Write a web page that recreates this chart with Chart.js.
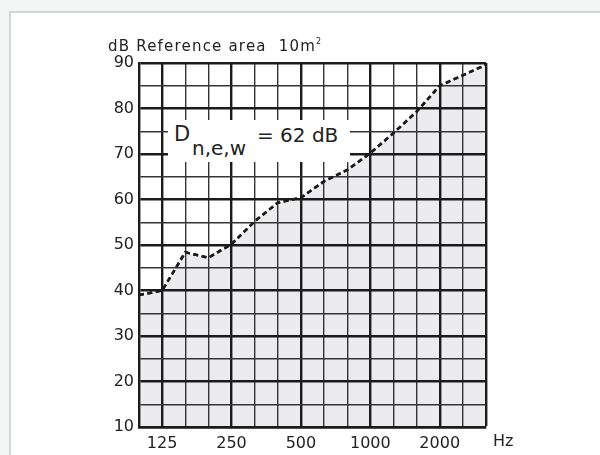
<!DOCTYPE html>
<html>
<head>
<meta charset="utf-8">
<script src="https://cdn.jsdelivr.net/npm/chart.js@4.4.1/dist/chart.umd.min.js"></script>
<style>
  body { margin: 0; width: 600px; height: 455px; overflow: hidden; background: #f4f5f5; position: relative; font-family: "DejaVu Sans", sans-serif; color: #222; }
  #panel { position: absolute; left: 9px; top: 11px; width: 600px; height: 460px; background: #fff; border-top: 2px solid #d6d6da; border-left: 2px solid #d6d6da; }
  #c { position: absolute; left: 0; top: 0; }
  .txt { position: absolute; white-space: pre; }
  #title { left: 108px; top: 34px; font-size: 15px; line-height: 15px; letter-spacing: 1.2px; }
  #title sup { font-size: 8px; vertical-align: 7px; letter-spacing: 0; }
  #hz { left: 493px; top: 433px; font-size: 16px; line-height: 16px; }
  #box { position: absolute; left: 168px; top: 120px; width: 182px; height: 42px; background: #fff; }
  .big { font-size: 20px; line-height: 20px; }
</style>
</head>
<body>
<div id="panel"></div>
<canvas id="c" width="600" height="455"></canvas>
<div class="txt" id="title">dB Reference area  10m<sup>2</sup></div>
<div class="txt" id="hz">Hz</div>
<div id="box"></div>
<div class="txt big" style="left:174px;top:124px;font-size:21px;">D</div>
<div class="txt big" style="left:192px;top:138px;">n,e,w</div>
<div class="txt big" style="left:257px;top:125px;">= 62 dB</div>
<script>
(function () {
    "use strict";

    // Third-octave bands (Hz)
    const bands = ["100", "125", "160", "200", "250", "315", "400", "500", "630", "800", "1000", "1250", "1600", "2000", "2500", "3150"];
    const labelledBands = ["125", "250", "500", "1000", "2000"];
    // Reference curve, dB
    const dnew = [39, 40, 48.4, 47.2, 50.2, 55.2, 59.3, 60.4, 64, 66.5, 70.2, 74.6, 79.3, 85, 87.3, 89.6];
    // y axis
    const yMin = 10;
    const yMax = 90;
    const yStep = 5;

    const ink = "#1b1b1b";
    const minorInk = "#343434";

    // grid on top of the grey fill, line on top of the grid
    const redrawLine = {
        id: "redrawLine",
        afterDraw(chart) {
            const meta = chart.getDatasetMeta(0);
            const ctx = chart.ctx;
            ctx.save();
            meta.dataset.draw(ctx, chart.chartArea);
            ctx.restore();
        },
    };

    const ctx = document.getElementById("c").getContext("2d");
    new Chart(ctx, {
        type: "line",
        data: {
            labels: bands,
            datasets: [
                {
                    label: "Reference curve",
                    data: dnew,
                    borderColor: ink,
                    borderWidth: 2.5,
                    borderDash: [5, 3.5],
                    backgroundColor: "#ececef",
                    fill: "start",
                    tension: 0,
                    pointRadius: 0,
                },
            ],
        },
        options: {
            responsive: false,
            animation: false,
            layout: {
                padding: { left: 103, top: 63, right: 114, bottom: 4 },
            },
            plugins: {
                legend: { display: false },
                tooltip: { enabled: false },
            },
            scales: {
                x: {
                    offset: false,
                    afterFit(s) { s.height = 24; },
                    grid: {
                        z: 1,
                        drawTicks: false,
                        color(c) {
                            const b = bands[c.index];
                            return labelledBands.includes(b) || c.index === bands.length - 1 ? ink : minorInk;
                        },
                        lineWidth(c) {
                            const b = bands[c.index];
                            return labelledBands.includes(b) || c.index === bands.length - 1 ? 2.4 : 1.4;
                        },
                    },
                    border: { display: true, color: ink, width: 2.4, z: 1 },
                    ticks: {
                        autoSkip: false,
                        maxRotation: 0,
                        padding: 7,
                        color: "#222",
                        font: { family: "DejaVu Sans", size: 16 },
                        callback(v, i) {
                            return labelledBands.includes(bands[i]) ? bands[i] : "";
                        },
                    },
                },
                y: {
                    min: yMin,
                    max: yMax,
                    afterFit(s) { s.width = 36; },
                    grid: {
                        z: 1,
                        drawTicks: false,
                        color(c) { return c.tick.value % 10 === 0 ? ink : minorInk; },
                        lineWidth(c) { return c.tick.value % 10 === 0 ? 2.4 : 1.4; },
                    },
                    border: { display: true, color: ink, width: 2.4, z: 1 },
                    ticks: {
                        stepSize: yStep,
                        padding: 5,
                        color: "#222",
                        font: { family: "DejaVu Sans", size: 16 },
                        callback(v) { return v % 10 === 0 ? String(v) : ""; },
                    },
                },
            },
        },
        plugins: [redrawLine],
    });
})();
</script>
</body>
</html>
